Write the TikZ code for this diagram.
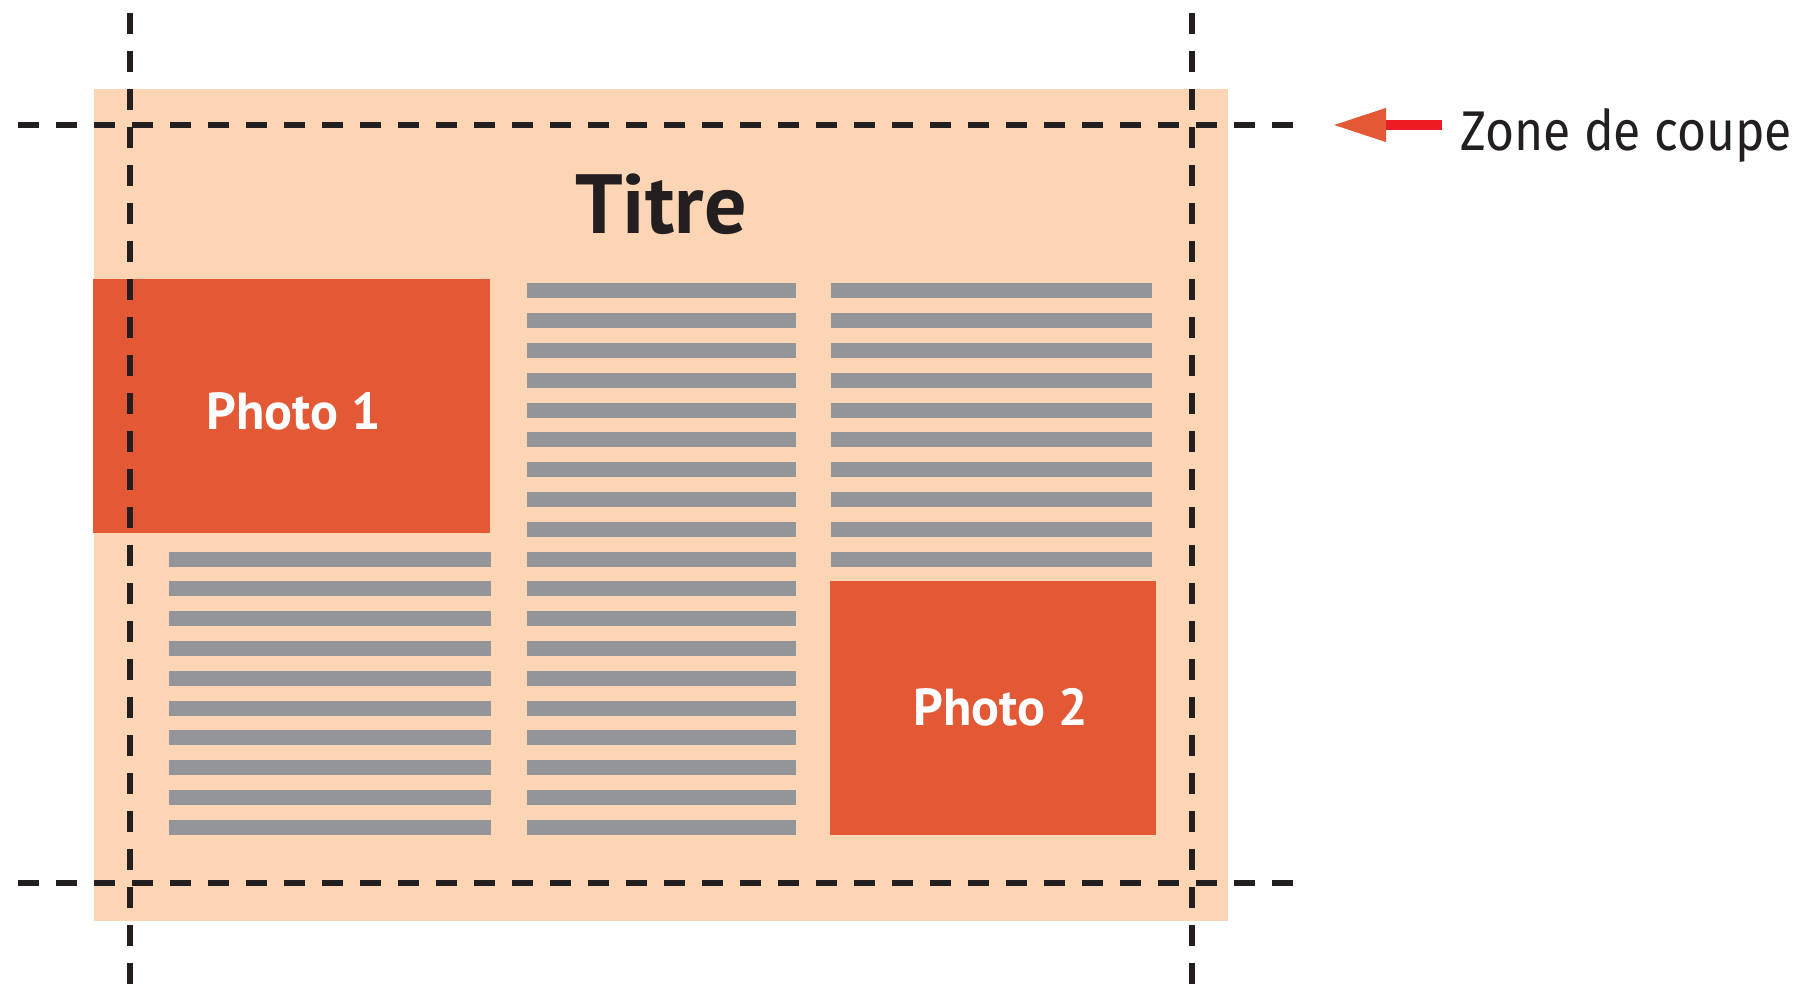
\documentclass[tikz,border=0pt]{standalone}
\usepackage{fontspec}
\setmainfont{PT Sans}
\newfontfamily\labelfont{Fira Sans}[FakeStretch=0.89]
\usetikzlibrary{positioning,arrows.meta}

\definecolor{peach}{HTML}{FCD5B5}
\definecolor{photored}{HTML}{E35936}
\definecolor{bargray}{HTML}{939598}
\definecolor{cutblack}{HTML}{231F20}
\definecolor{shaftred}{HTML}{ED1C24}

\begin{document}
\begin{tikzpicture}
            [x=0.5pt,y=-0.5pt,
             photo/.style={fill=photored, inner sep=0pt},
             phototext/.style={text=white, inner sep=0pt, font=\fontsize{26}{26}\selectfont\bfseries},
             bar/.style={fill=bargray},
             cutline/.style={draw=cutblack, line width=2.85pt, dash pattern=on 10.5pt off 8.5pt}]
          \useasboundingbox (0,0) rectangle (1807,985);

          % page
          \fill[peach] (94,89) rectangle (1228,921);

          \node[photo, minimum width=198.5pt, minimum height=127pt] (p1) at (291.5,406) {};
          \node[photo, minimum width=163pt, minimum height=127pt] (p2) at (993,708) {};
          \node[phototext] (p1text) at (294,411) {Photo 1};
          \node[phototext] (p2text) at (1001,707) {Photo 2};
          \node[anchor=base, inner sep=0pt, text=cutblack, font=\fontsize{42}{42}\selectfont\bfseries] (titre) at (661,233.3) {Titre};

          % text columns
          \foreach \i in {9,...,18}
            \fill[bar] (169.3,283.3+29.8*\i) rectangle (490.7,298.3+29.8*\i);
          \foreach \i in {0,...,18}
            \fill[bar] (526.5,283.3+29.8*\i) rectangle (795.7,298.3+29.8*\i);
          \foreach \i in {0,...,9}
            \fill[bar] (831,283.3+29.8*\i) rectangle (1152.3,298.3+29.8*\i);

          % cut zone
          \coordinate (v1a) at (130,13);
          \coordinate (v1b) at (130,985);
          \coordinate (v2a) at (1192,13);
          \coordinate (v2b) at (1192,985);
          \coordinate (h1a) at (18,125);
          \coordinate (h1b) at (1297,125);
          \coordinate (h2a) at (18,883);
          \coordinate (h2b) at (1297,883);
          \foreach \from/\to in {v1a/v1b, v2a/v2b, h1a/h1b, h2a/h2b}
            \draw[cutline] (\from) -- (\to);

          \coordinate (tip) at (1332,125);
          \node[anchor=base west, inner sep=0pt, text=cutblack, font=\labelfont\fontsize{28}{28}\selectfont] (zone) at (1460,150.7) {Zone de coupe};
          \draw[shaftred, line width=5pt, shorten <=9pt, -{Triangle[length=27pt, width=15.5pt, color=photored]}] (zone.west |- tip) -- (tip);
        \end{tikzpicture}
\end{document}
